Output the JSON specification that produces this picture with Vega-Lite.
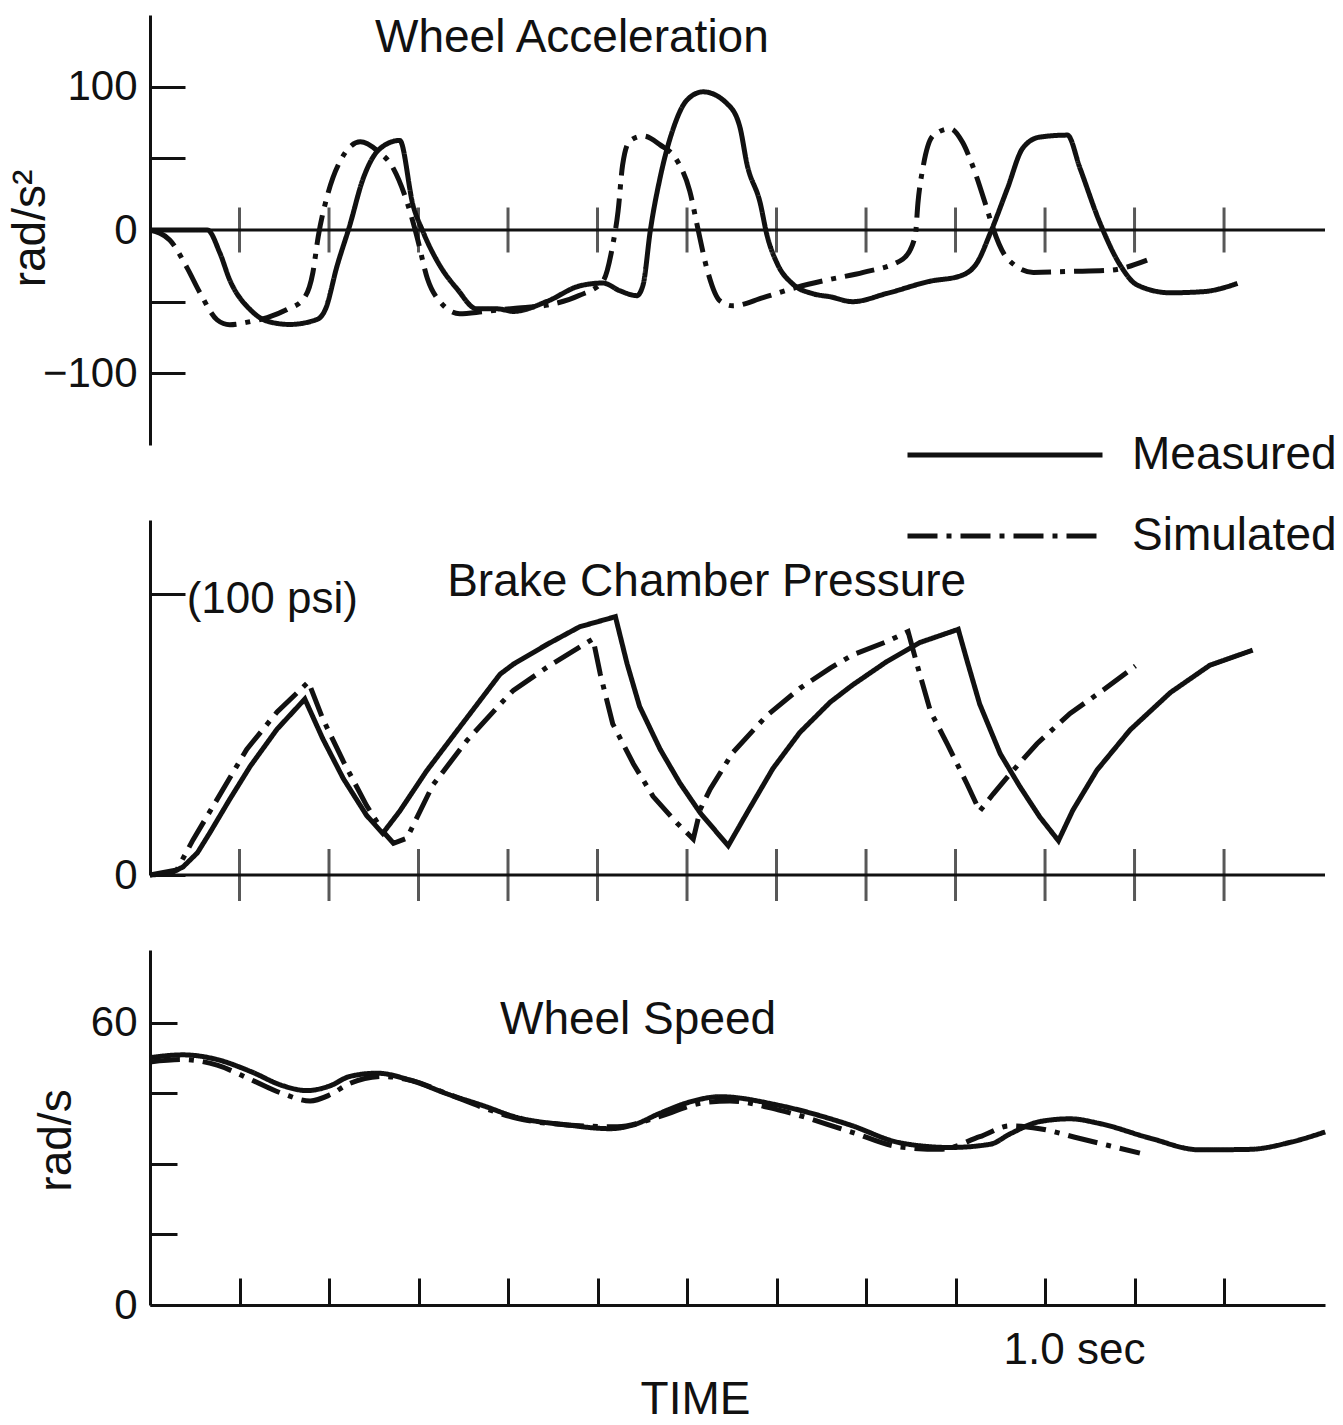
{
"$schema":"https://vega.github.io/schema/vega-lite/v6.json",
"background":"white",
"autosize":{"type":"none"},
"padding":{"left":150,"top":15,"right":1193,"bottom":1410},
"config":{"view":{"stroke":null},"font":"Liberation Sans",
 "axis":{"grid":false,"domainColor":"#111","domainWidth":3,"tickColor":"#111","tickWidth":3,"labelColor":"#111","titleColor":"#111","labelFont":"Liberation Sans","titleFont":"Liberation Sans","labelFontSize":42,"titleFontSize":46,"titleFontWeight":"normal","labelFlush":false,"labelOverlap":false},
 "text":{"font":"Liberation Sans","fontSize":46,"color":"#111"}},
"datasets":{
"ticks":[{"t":0.1},{"t":0.2},{"t":0.3},{"t":0.4},{"t":0.5},{"t":0.6},{"t":0.7},{"t":0.8},{"t":0.9},{"t":1.0},{"t":1.1},{"t":1.2}],
"accel":[
{"t":0,"v":0,"s":"Measured"},{"t":0.064,"v":0,"s":"Measured"},{"t":0.078,"v":-15.9,"s":"Measured"},{"t":0.089,"v":-34.7,"s":"Measured"},{"t":0.112,"v":-55.6,"s":"Measured"},{"t":0.131,"v":-63.6,"s":"Measured"},{"t":0.156,"v":-65.9,"s":"Measured"},{"t":0.187,"v":-62.3,"s":"Measured"},{"t":0.196,"v":-55.3,"s":"Measured"},{"t":0.209,"v":-25.1,"s":"Measured"},{"t":0.223,"v":2.8,"s":"Measured"},{"t":0.238,"v":35.6,"s":"Measured"},{"t":0.257,"v":56.8,"s":"Measured"},{"t":0.279,"v":62.5,"s":"Measured"},{"t":0.294,"v":17,"s":"Measured"},{"t":0.305,"v":-1.2,"s":"Measured"},{"t":0.324,"v":-25,"s":"Measured"},{"t":0.343,"v":-41,"s":"Measured"},{"t":0.365,"v":-55,"s":"Measured"},{"t":0.388,"v":-55,"s":"Measured"},{"t":0.406,"v":-56.8,"s":"Measured"},{"t":0.444,"v":-49.7,"s":"Measured"},{"t":0.48,"v":-39,"s":"Measured"},{"t":0.506,"v":-37,"s":"Measured"},{"t":0.525,"v":-42.4,"s":"Measured"},{"t":0.544,"v":-45.8,"s":"Measured"},{"t":0.551,"v":-38,"s":"Measured"},{"t":0.559,"v":-0.3,"s":"Measured"},{"t":0.57,"v":36.7,"s":"Measured"},{"t":0.584,"v":69.6,"s":"Measured"},{"t":0.6,"v":90.7,"s":"Measured"},{"t":0.618,"v":96.4,"s":"Measured"},{"t":0.645,"v":88,"s":"Measured"},{"t":0.659,"v":72,"s":"Measured"},{"t":0.667,"v":46,"s":"Measured"},{"t":0.682,"v":18.2,"s":"Measured"},{"t":0.689,"v":-2.7,"s":"Measured"},{"t":0.701,"v":-23.7,"s":"Measured"},{"t":0.718,"v":-37.6,"s":"Measured"},{"t":0.741,"v":-44.5,"s":"Measured"},{"t":0.76,"v":-46.6,"s":"Measured"},{"t":0.785,"v":-50,"s":"Measured"},{"t":0.823,"v":-44.3,"s":"Measured"},{"t":0.872,"v":-35.7,"s":"Measured"},{"t":0.905,"v":-32.1,"s":"Measured"},{"t":0.924,"v":-22.9,"s":"Measured"},{"t":0.939,"v":-1.9,"s":"Measured"},{"t":0.958,"v":29,"s":"Measured"},{"t":0.975,"v":57,"s":"Measured"},{"t":0.994,"v":64.8,"s":"Measured"},{"t":1.025,"v":66.2,"s":"Measured"},{"t":1.039,"v":43.2,"s":"Measured"},{"t":1.061,"v":5.5,"s":"Measured"},{"t":1.084,"v":-24.5,"s":"Measured"},{"t":1.103,"v":-38.4,"s":"Measured"},{"t":1.14,"v":-43.8,"s":"Measured"},{"t":1.177,"v":-43,"s":"Measured"},{"t":1.215,"v":-37.3,"s":"Measured"},
{"t":0,"v":0,"s":"Simulated"},{"t":0.022,"v":-7,"s":"Simulated"},{"t":0.041,"v":-25.9,"s":"Simulated"},{"t":0.056,"v":-44,"s":"Simulated"},{"t":0.075,"v":-62.7,"s":"Simulated"},{"t":0.089,"v":-66.1,"s":"Simulated"},{"t":0.112,"v":-63.9,"s":"Simulated"},{"t":0.131,"v":-61.1,"s":"Simulated"},{"t":0.153,"v":-55.5,"s":"Simulated"},{"t":0.171,"v":-48.5,"s":"Simulated"},{"t":0.182,"v":-29.6,"s":"Simulated"},{"t":0.188,"v":-4.4,"s":"Simulated"},{"t":0.198,"v":23.6,"s":"Simulated"},{"t":0.212,"v":47.5,"s":"Simulated"},{"t":0.235,"v":61.5,"s":"Simulated"},{"t":0.254,"v":55.3,"s":"Simulated"},{"t":0.272,"v":42.8,"s":"Simulated"},{"t":0.287,"v":19.8,"s":"Simulated"},{"t":0.298,"v":-4,"s":"Simulated"},{"t":0.31,"v":-34,"s":"Simulated"},{"t":0.324,"v":-50,"s":"Simulated"},{"t":0.346,"v":-58.4,"s":"Simulated"},{"t":0.372,"v":-57,"s":"Simulated"},{"t":0.406,"v":-54.7,"s":"Simulated"},{"t":0.444,"v":-52.4,"s":"Simulated"},{"t":0.48,"v":-45.6,"s":"Simulated"},{"t":0.506,"v":-35.8,"s":"Simulated"},{"t":0.517,"v":-10.6,"s":"Simulated"},{"t":0.523,"v":13.2,"s":"Simulated"},{"t":0.528,"v":45.3,"s":"Simulated"},{"t":0.536,"v":62.1,"s":"Simulated"},{"t":0.551,"v":65.6,"s":"Simulated"},{"t":0.57,"v":59.4,"s":"Simulated"},{"t":0.589,"v":48.3,"s":"Simulated"},{"t":0.603,"v":27.3,"s":"Simulated"},{"t":0.612,"v":1.4,"s":"Simulated"},{"t":0.622,"v":-26.5,"s":"Simulated"},{"t":0.637,"v":-49.6,"s":"Simulated"},{"t":0.651,"v":-52.9,"s":"Simulated"},{"t":0.685,"v":-47.2,"s":"Simulated"},{"t":0.723,"v":-39.9,"s":"Simulated"},{"t":0.76,"v":-34.4,"s":"Simulated"},{"t":0.797,"v":-29.6,"s":"Simulated"},{"t":0.841,"v":-20.4,"s":"Simulated"},{"t":0.855,"v":-4.2,"s":"Simulated"},{"t":0.858,"v":18.9,"s":"Simulated"},{"t":0.864,"v":44.8,"s":"Simulated"},{"t":0.875,"v":65.8,"s":"Simulated"},{"t":0.894,"v":70.7,"s":"Simulated"},{"t":0.908,"v":61,"s":"Simulated"},{"t":0.919,"v":45,"s":"Simulated"},{"t":0.935,"v":15,"s":"Simulated"},{"t":0.942,"v":1,"s":"Simulated"},{"t":0.958,"v":-20,"s":"Simulated"},{"t":0.987,"v":-29.6,"s":"Simulated"},{"t":1.028,"v":-28.9,"s":"Simulated"},{"t":1.073,"v":-28,"s":"Simulated"},{"t":1.114,"v":-21,"s":"Simulated"}],
"pressure":[
{"t":0,"v":0,"s":"Measured"},{"t":0.022,"v":0.5,"s":"Measured"},{"t":0.037,"v":2.9,"s":"Measured"},{"t":0.053,"v":7.9,"s":"Measured"},{"t":0.067,"v":15.1,"s":"Measured"},{"t":0.089,"v":26.9,"s":"Measured"},{"t":0.112,"v":38.7,"s":"Measured"},{"t":0.142,"v":51.9,"s":"Measured"},{"t":0.173,"v":62.6,"s":"Measured"},{"t":0.193,"v":48.5,"s":"Measured"},{"t":0.216,"v":34.3,"s":"Measured"},{"t":0.242,"v":21.2,"s":"Measured"},{"t":0.26,"v":14.8,"s":"Measured"},{"t":0.279,"v":22.7,"s":"Measured"},{"t":0.309,"v":37,"s":"Measured"},{"t":0.343,"v":51.3,"s":"Measured"},{"t":0.391,"v":71.4,"s":"Measured"},{"t":0.406,"v":75,"s":"Measured"},{"t":0.444,"v":82.1,"s":"Measured"},{"t":0.48,"v":88.3,"s":"Measured"},{"t":0.52,"v":91.9,"s":"Measured"},{"t":0.533,"v":75.2,"s":"Measured"},{"t":0.547,"v":60,"s":"Measured"},{"t":0.57,"v":44.7,"s":"Measured"},{"t":0.592,"v":32.7,"s":"Measured"},{"t":0.615,"v":22,"s":"Measured"},{"t":0.646,"v":10.4,"s":"Measured"},{"t":0.667,"v":22.1,"s":"Measured"},{"t":0.696,"v":37.9,"s":"Measured"},{"t":0.726,"v":50.7,"s":"Measured"},{"t":0.76,"v":61.5,"s":"Measured"},{"t":0.785,"v":67.6,"s":"Measured"},{"t":0.823,"v":75.9,"s":"Measured"},{"t":0.86,"v":82.7,"s":"Measured"},{"t":0.903,"v":87.4,"s":"Measured"},{"t":0.913,"v":76.1,"s":"Measured"},{"t":0.927,"v":60.8,"s":"Measured"},{"t":0.95,"v":43.1,"s":"Measured"},{"t":0.972,"v":31.4,"s":"Measured"},{"t":0.994,"v":20.7,"s":"Measured"},{"t":1.015,"v":12.2,"s":"Measured"},{"t":1.031,"v":23,"s":"Measured"},{"t":1.058,"v":37.3,"s":"Measured"},{"t":1.095,"v":51.6,"s":"Measured"},{"t":1.14,"v":64.9,"s":"Measured"},{"t":1.184,"v":74.6,"s":"Measured"},{"t":1.232,"v":80,"s":"Measured"},
{"t":0,"v":0,"s":"Simulated"},{"t":0.03,"v":1.8,"s":"Simulated"},{"t":0.048,"v":12.5,"s":"Simulated"},{"t":0.075,"v":26.9,"s":"Simulated"},{"t":0.108,"v":44.7,"s":"Simulated"},{"t":0.142,"v":58,"s":"Simulated"},{"t":0.177,"v":68.7,"s":"Simulated"},{"t":0.193,"v":55.6,"s":"Simulated"},{"t":0.216,"v":40.4,"s":"Simulated"},{"t":0.242,"v":24.7,"s":"Simulated"},{"t":0.26,"v":15.6,"s":"Simulated"},{"t":0.272,"v":11.3,"s":"Simulated"},{"t":0.287,"v":13.1,"s":"Simulated"},{"t":0.316,"v":32,"s":"Simulated"},{"t":0.354,"v":47.8,"s":"Simulated"},{"t":0.391,"v":60.7,"s":"Simulated"},{"t":0.406,"v":65.7,"s":"Simulated"},{"t":0.444,"v":74,"s":"Simulated"},{"t":0.495,"v":84,"s":"Simulated"},{"t":0.503,"v":71.6,"s":"Simulated"},{"t":0.517,"v":53.8,"s":"Simulated"},{"t":0.54,"v":39.6,"s":"Simulated"},{"t":0.562,"v":28,"s":"Simulated"},{"t":0.589,"v":18.4,"s":"Simulated"},{"t":0.607,"v":12.8,"s":"Simulated"},{"t":0.615,"v":23.5,"s":"Simulated"},{"t":0.626,"v":30.6,"s":"Simulated"},{"t":0.651,"v":43.5,"s":"Simulated"},{"t":0.689,"v":56.7,"s":"Simulated"},{"t":0.726,"v":66.4,"s":"Simulated"},{"t":0.76,"v":73.6,"s":"Simulated"},{"t":0.785,"v":78.3,"s":"Simulated"},{"t":0.823,"v":83,"s":"Simulated"},{"t":0.847,"v":86.6,"s":"Simulated"},{"t":0.857,"v":74.9,"s":"Simulated"},{"t":0.872,"v":58.2,"s":"Simulated"},{"t":0.891,"v":46.5,"s":"Simulated"},{"t":0.913,"v":32.3,"s":"Simulated"},{"t":0.927,"v":22.7,"s":"Simulated"},{"t":0.942,"v":28.8,"s":"Simulated"},{"t":0.961,"v":36,"s":"Simulated"},{"t":0.991,"v":46.7,"s":"Simulated"},{"t":1.028,"v":57.5,"s":"Simulated"},{"t":1.065,"v":65.8,"s":"Simulated"},{"t":1.101,"v":74.4,"s":"Simulated"}],
"speed":[
{"t":0,"v":52.6,"s":"Measured"},{"t":0.037,"v":53.2,"s":"Measured"},{"t":0.075,"v":52.2,"s":"Measured"},{"t":0.112,"v":49.7,"s":"Measured"},{"t":0.149,"v":46.6,"s":"Measured"},{"t":0.175,"v":45.6,"s":"Measured"},{"t":0.201,"v":46.6,"s":"Measured"},{"t":0.223,"v":48.6,"s":"Measured"},{"t":0.254,"v":49.3,"s":"Measured"},{"t":0.291,"v":47.8,"s":"Measured"},{"t":0.335,"v":44.7,"s":"Measured"},{"t":0.372,"v":42.4,"s":"Measured"},{"t":0.41,"v":39.9,"s":"Measured"},{"t":0.466,"v":38.3,"s":"Measured"},{"t":0.514,"v":37.5,"s":"Measured"},{"t":0.54,"v":38.3,"s":"Measured"},{"t":0.57,"v":40.8,"s":"Measured"},{"t":0.6,"v":43,"s":"Measured"},{"t":0.637,"v":44.3,"s":"Measured"},{"t":0.704,"v":42.4,"s":"Measured"},{"t":0.782,"v":38.3,"s":"Measured"},{"t":0.838,"v":34.5,"s":"Measured"},{"t":0.894,"v":33.5,"s":"Measured"},{"t":0.939,"v":34.2,"s":"Measured"},{"t":0.961,"v":36.4,"s":"Measured"},{"t":0.994,"v":39,"s":"Measured"},{"t":1.028,"v":39.6,"s":"Measured"},{"t":1.061,"v":38.6,"s":"Measured"},{"t":1.117,"v":35.5,"s":"Measured"},{"t":1.173,"v":33,"s":"Measured"},{"t":1.229,"v":33.1,"s":"Measured"},{"t":1.274,"v":34.6,"s":"Measured"},{"t":1.313,"v":36.8,"s":"Measured"},
{"t":0,"v":51.7,"s":"Simulated"},{"t":0.037,"v":52.2,"s":"Simulated"},{"t":0.075,"v":51,"s":"Simulated"},{"t":0.112,"v":48,"s":"Simulated"},{"t":0.149,"v":44.9,"s":"Simulated"},{"t":0.179,"v":43.4,"s":"Simulated"},{"t":0.201,"v":44.7,"s":"Simulated"},{"t":0.223,"v":47.1,"s":"Simulated"},{"t":0.26,"v":48.6,"s":"Simulated"},{"t":0.291,"v":47.8,"s":"Simulated"},{"t":0.335,"v":44.7,"s":"Simulated"},{"t":0.372,"v":42,"s":"Simulated"},{"t":0.41,"v":39.7,"s":"Simulated"},{"t":0.466,"v":38.3,"s":"Simulated"},{"t":0.522,"v":37.9,"s":"Simulated"},{"t":0.57,"v":40.1,"s":"Simulated"},{"t":0.615,"v":42.9,"s":"Simulated"},{"t":0.648,"v":43.4,"s":"Simulated"},{"t":0.704,"v":41.4,"s":"Simulated"},{"t":0.782,"v":36.9,"s":"Simulated"},{"t":0.838,"v":33.6,"s":"Simulated"},{"t":0.883,"v":33.1,"s":"Simulated"},{"t":0.927,"v":35.8,"s":"Simulated"},{"t":0.961,"v":38.1,"s":"Simulated"},{"t":0.994,"v":37.5,"s":"Simulated"},{"t":1.039,"v":35.4,"s":"Simulated"},{"t":1.106,"v":32.3,"s":"Simulated"}]
},
"resolve":{"scale":{"strokeDash":"independent"},"legend":{"strokeDash":"independent"}},
"spacing":75,
"bounds":"flush",
"vconcat":[
{"width":1175,"height":430,
 "layer":[
  {"data":{"values":[{"zero":0}]},"mark":{"type":"rule","color":"#111","strokeWidth":3},"encoding":{"y":{"field":"zero","type":"quantitative"}}},
  {"data":{"name":"ticks"},"mark":{"type":"tick","orient":"vertical","size":45,"thickness":3,"color":"#111"},
   "encoding":{"x":{"field":"t","type":"quantitative","axis":null},"y":{"datum":0,"type":"quantitative"}}},
  {"data":{"name":"accel"},"mark":{"type":"line","interpolate":"monotone","strokeWidth":5,"color":"#111"},
   "encoding":{
    "x":{"field":"t","type":"quantitative","scale":{"domain":[0,1.3128],"nice":false,"zero":false},"axis":null},
    "y":{"field":"v","type":"quantitative","scale":{"domain":[-150,150],"nice":false,"zero":false},
      "axis":{"values":[-100,-50,0,50,100],"labelExpr":"abs(datum.value) == 50 ? '' : datum.label","tickSize":-35,"labelPadding":48,"title":"rad/s²","titleX":-106,"titleY":213,"titleAngle":270,"titleBaseline":"alphabetic","titleAlign":"center"}},
    "strokeDash":{"field":"s","type":"nominal","scale":{"domain":["Measured","Simulated"],"range":[[1,0],[30,9,5,9]]},
      "legend":{"title":null,"orient":"none","legendX":755,"legendY":420,"symbolType":"stroke","symbolSize":38025,"symbolStrokeWidth":5,"symbolStrokeColor":"#111","clipHeight":40,"rowPadding":35,"labelFontSize":46,"labelFont":"Liberation Sans","labelColor":"#111","labelOffset":27,"labelLimit":0,"padding":0}}
   }},
  {"data":{"values":[{"label":"Wheel Acceleration"}]},"mark":{"type":"text","align":"left","baseline":"alphabetic","fontSize":46},
   "encoding":{"x":{"datum":0.2514,"type":"quantitative"},"y":{"datum":124,"type":"quantitative"},"text":{"field":"label"}}}
 ]},
{"width":1175,"height":355,
 "layer":[
  {"data":{"values":[{"zero":0}]},"mark":{"type":"rule","color":"#111","strokeWidth":3},"encoding":{"y":{"field":"zero","type":"quantitative"}}},
  {"data":{"name":"ticks"},"mark":{"type":"tick","orient":"vertical","size":52,"thickness":3,"color":"#111"},
   "encoding":{"x":{"field":"t","type":"quantitative","axis":null},"y":{"datum":0,"type":"quantitative"}}},
  {"data":{"name":"pressure"},"mark":{"type":"line","interpolate":"linear","strokeWidth":5,"color":"#111"},
   "encoding":{
    "x":{"field":"t","type":"quantitative","scale":{"domain":[0,1.3128],"nice":false,"zero":false},"axis":null},
    "y":{"field":"v","type":"quantitative","scale":{"domain":[0,126.3],"nice":false,"zero":false},
      "axis":{"values":[0,100],"labelExpr":"datum.value == 0 ? '0' : ''","tickSize":-35,"labelPadding":48,"title":null}},
    "strokeDash":{"field":"s","type":"nominal","scale":{"domain":["Measured","Simulated"],"range":[[1,0],[30,9,5,9]]},"legend":null}
   }},
  {"data":{"values":[{"label":"Brake Chamber Pressure"}]},"mark":{"type":"text","align":"left","baseline":"alphabetic","fontSize":46},
   "encoding":{"x":{"datum":0.332,"type":"quantitative"},"y":{"datum":99.3,"type":"quantitative"},"text":{"field":"label"}}},
  {"data":{"values":[{"label":"(100 psi)"}]},"mark":{"type":"text","align":"left","baseline":"middle","fontSize":44,"dy":6},
   "encoding":{"x":{"datum":0.041,"type":"quantitative"},"y":{"datum":100,"type":"quantitative"},"text":{"field":"label"}}}
 ]},
{"width":1175,"height":355,
 "layer":[
  {"data":{"name":"speed"},"mark":{"type":"line","interpolate":"monotone","strokeWidth":5,"color":"#111"},
   "encoding":{
    "x":{"field":"t","type":"quantitative","scale":{"domain":[0,1.3128],"nice":false,"zero":false},
      "axis":{"values":[0.1,0.2,0.3,0.4,0.5,0.6,0.7,0.8,0.9,1,1.1,1.2],"labelExpr":"datum.value == 1 ? '1.0 sec' : ''","tickSize":-27,"labelPadding":50,"labelAlign":"left","labelOffset":-42,"labelBaseline":"top","labelFontSize":44,"title":"TIME","titleX":545,"titleY":108,"titleBaseline":"alphabetic","titleAlign":"center"}},
    "y":{"field":"v","type":"quantitative","scale":{"domain":[0,75.5],"nice":false,"zero":false},
      "axis":{"values":[0,15,30,45,60],"labelExpr":"datum.value == 0 || datum.value == 60 ? datum.label : ''","tickSize":-27,"labelPadding":40,"title":"rad/s","titleX":-80,"titleY":190,"titleAngle":270,"titleBaseline":"alphabetic","titleAlign":"center"}},
    "strokeDash":{"field":"s","type":"nominal","scale":{"domain":["Measured","Simulated"],"range":[[1,0],[30,9,5,9]]},"legend":null}
   }},
  {"data":{"values":[{"label":"Wheel Speed"}]},"mark":{"type":"text","align":"left","baseline":"alphabetic","fontSize":46},
   "encoding":{"x":{"datum":0.391,"type":"quantitative"},"y":{"datum":57.7,"type":"quantitative"},"text":{"field":"label"}}}
 ]}
]
}
